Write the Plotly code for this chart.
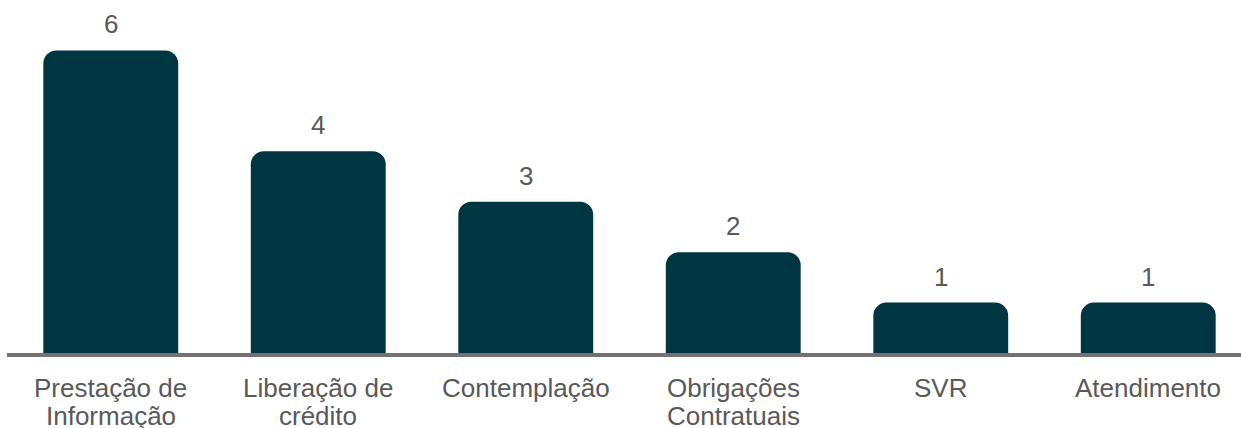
import plotly.graph_objects as go

# Categories and counts
categorias = ["Prestação de<br>Informação", "Liberação de<br>crédito", "Contemplação",
              "Obrigações<br>Contratuais", "SVR", "Atendimento"]
valores = [6, 4, 3, 2, 1, 1]

cor_barra = "#003641"
cor_texto = "#595959"
fonte = "Liberation Sans, Arial, sans-serif"

fig = go.Figure(go.Bar(
    x=list(range(len(categorias))),
    y=valores,
    marker=dict(color=cor_barra, cornerradius=13, line=dict(width=0)),
    width=0.65,
    hoverinfo="skip",
))

# Value labels above each bar
for i, v in enumerate(valores):
    fig.add_annotation(x=i, y=v, text=str(v), showarrow=False,
                       yanchor="bottom", yshift=9,
                       font=dict(size=26, color=cor_texto, family=fonte))

# Category labels, one annotation per line to keep the tighter line spacing
for i, cat in enumerate(categorias):
    for j, linha in enumerate(cat.split("<br>")):
        fig.add_annotation(x=i, y=0, yref="paper", text=linha, showarrow=False,
                           yanchor="middle", yshift=-35 - 28 * j,
                           font=dict(size=26, color=cor_texto, family=fonte))

fig.update_layout(
    width=1241, height=428,
    margin=dict(l=7, r=0, t=0, b=75),
    plot_bgcolor="white", paper_bgcolor="white",
    showlegend=False,
    xaxis=dict(
        range=[-0.5, 5.447], showticklabels=False,
        showline=True, linewidth=4, linecolor="#757171",
        showgrid=False, zeroline=False, ticks="",
    ),
    yaxis=dict(range=[0, 7.0], visible=False, showgrid=False, zeroline=False),
)

fig.write_html("out.html", config={"displayModeBar": False},
               post_script="document.body.style.margin='0';")
